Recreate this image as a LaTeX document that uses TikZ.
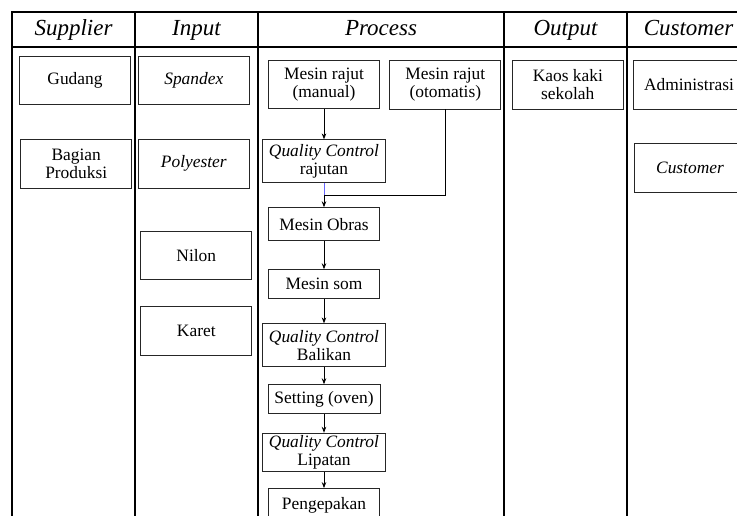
\documentclass[tikz,border=0pt]{standalone}
\usepackage{fontspec}
\setmainfont{Liberation Serif}
\usetikzlibrary{arrows.meta}

\begin{document}
\begin{tikzpicture}[x=1pt, y=-1pt, >={Stealth[length=6pt,width=4.5pt]},
  kotak/.style={draw=black!85, line width=0.8pt, align=center, inner sep=1pt,
    minimum width=111pt, minimum height=48pt, font=\fontsize{17.4}{18.5}\selectfont},
  kotakqc/.style={kotak, minimum width=123pt, minimum height=43pt},
  kotakkecil/.style={kotak, minimum height=29pt},
  judul/.style={anchor=base, font=\fontsize{23}{26}\selectfont\itshape},
  garis/.style={line width=1.2pt},
  panah/.style={->, line width=0.8pt}]
  \useasboundingbox (0,0) rectangle (737,516);
  \clip (0,0) rectangle (737,516);

  % tabel
  \draw[garis] (12,516) -- (12,12) -- (760,12);
  \draw[garis] (12,47) -- (760,47);
  \foreach \x in {135,258,504,627}
    \draw[garis] (\x,12) -- (\x,516);

  % judul kolom
  \node[judul] (hsup) at (73.5,35.5) {Supplier};
  \node[judul] (hinp) at (196.5,35.5) {Input};
  \node[judul] (hpro) at (381,35.5) {Process};
  \node[judul] (hout) at (565.5,35.5) {Output};
  \node[judul] (hcus) at (688.5,35.5) {Customer};

  % supplier
  \node[kotak] (gudang) at (75,80.5) {Gudang};
  \node[kotak, minimum height=49pt] (bagian) at (76.2,163.8) {Bagian\\Produksi};

  % input
  \node[kotak] (spandex) at (193.8,80.5) {\textit{Spandex}};
  \node[kotak, minimum height=49pt] (polyester) at (193.8,163.8) {\textit{Polyester}};
  \node[kotak] (nilon) at (196.3,255.8) {Nilon};
  \node[kotak, minimum height=49pt] (karet) at (196.3,330.5) {Karet};

  % process
  \node[kotak] (manual) at (324,84.8) {Mesin rajut\\(manual)};
  \node[kotak, minimum height=49pt] (otomatis) at (445.3,84.5) {Mesin rajut\\(otomatis)};
  \node[kotakqc] (qcrajut) at (324,161.3) {\textit{Quality Control}\\rajutan};
  \node[kotak, minimum height=33pt] (obras) at (324,224.2) {Mesin Obras};
  \node[kotakkecil] (som) at (324,284.2) {Mesin som};
  \node[kotakqc] (qcbalik) at (324,345.3) {\textit{Quality Control}\\Balikan};
  \node[kotakkecil, minimum width=112pt] (setting) at (324,399.2) {Setting (oven)};
  \node[kotakqc, minimum height=38pt] (qclipat) at (324,452.2) {\textit{Quality Control}\\Lipatan};
  \node[kotak, minimum height=33pt] (kemas) at (324,505) {Pengepakan};

  % output
  \node[kotak, minimum height=49pt] (kaos) at (567.8,84.5) {Kaos kaki\\sekolah};

  % customer
  \node[kotak, minimum height=49pt] (admin) at (689,84.5) {Administrasi};
  \node[kotak, minimum height=49pt] (cust) at (690,168.3) {\textit{Customer}};

  % alur
  \coordinate (gabung) at (324,195);
  \draw[panah] (manual) -- (qcrajut);
  \draw[line width=1pt, blue!60] (qcrajut) -- (gabung);
  \draw[line width=0.8pt] (otomatis) |- (gabung);
  \draw[panah] (gabung) -- (obras);
  \draw[panah] (obras) -- (som);
  \draw[panah] (som) -- (qcbalik);
  \draw[panah] (qcbalik) -- (setting);
  \draw[panah] (setting) -- (qclipat);
  \draw[panah] (qclipat) -- (kemas);
\end{tikzpicture}
\end{document}
